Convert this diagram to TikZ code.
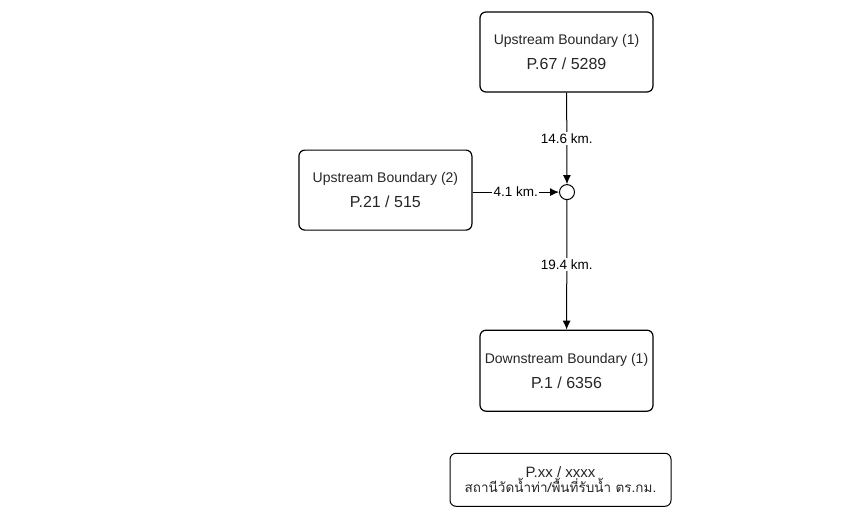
\documentclass[tikz,border=0pt]{standalone}
\usepackage{fontspec}
\setmainfont{Liberation Sans}
\newfontfamily\thaifont[Script=Thai]{Loma}
\usetikzlibrary{arrows.meta, positioning}
\tikzstyle{station} = [
  rectangle, draw, rounded corners=6pt, line width=1.2pt,
  minimum width=173pt, minimum height=80pt, fill=white, text=black!85,
  text centered, align=center, font=\fontsize{14}{25}\selectfont
]
\tikzstyle{arrow} = [line width=1pt, -{Latex[length=9pt,width=8pt]}]

\begin{document}
\begin{tikzpicture}[x=1pt, y=1pt, node distance=1cm]
\useasboundingbox (0,0) rectangle (854,-506);

\tikzstyle{junction} = [circle, draw, line width=1pt, minimum size=15pt, inner sep=0pt, fill=white]
\tikzstyle{distlabel} = [fill=white, inner sep=1.5pt, font=\fontsize{13.5}{16}\selectfont]
\tikzstyle{legendnode} = [rectangle, draw, rounded corners=6pt, line width=1pt, minimum width=221pt, minimum height=53pt, text=black!85, align=center, font=\fontsize{13.5}{15}\selectfont]

% Nodes
\node (up1) [station] at (566.5,-52) {Upstream Boundary (1)\\{\fontsize{16}{25}\selectfont P.67 / 5289}};
\node (joint) [junction, below=91.5pt of up1.south, anchor=north, xshift=0.5pt] {};
\node (up2) [station, left=86.5pt of joint, yshift=2pt] {Upstream Boundary (2)\\{\fontsize{16}{25}\selectfont P.21 / 515}};
\node (down1) [station, below=129.5pt of joint.south, anchor=north, xshift=-0.5pt, minimum height=81pt] {Downstream Boundary (1)\\{\fontsize{16}{25}\selectfont P.1 / 6356}};
\node (legend) [legendnode, below=41pt of down1.south, anchor=north, xshift=-6pt] {{\fontsize{15}{15}\selectfont P.xx / xxxx}\\{\thaifont สถานีวัดน้ำท่า/พื้นที่รับน้ำ ตร.กม.}};

% Arrows
\draw [arrow] (up1) -- node [distlabel] {14.6 km.} (joint);
\draw [arrow] (up2.east |- joint) -- node [distlabel] {4.1 km.} (joint);
\draw [arrow] (joint) -- node [distlabel] {19.4 km.} (down1);

\end{tikzpicture}
\end{document}
